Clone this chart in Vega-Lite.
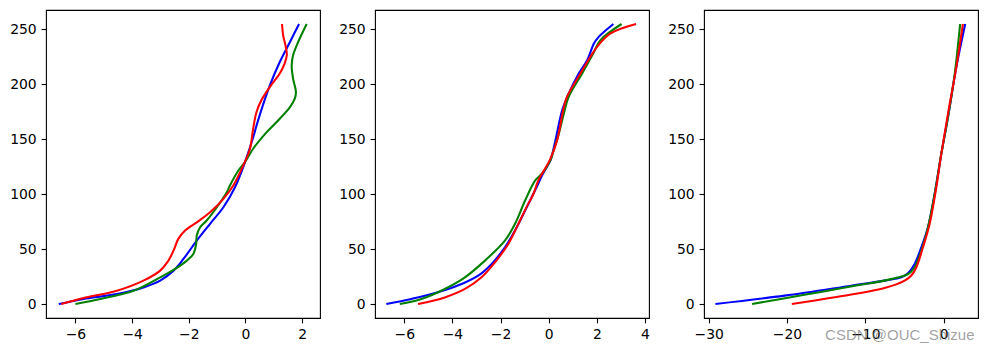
{
  "$schema": "https://vega.github.io/schema/vega-lite/v6.json",
  "autosize": {"type": "pad"},
  "padding": {"left": 9, "top": 9, "right": 5, "bottom": 0},
  "background": "white",
  "title": {"text": "CSDN @OUC_Shizue", "orient": "bottom", "anchor": "end", "font": "Liberation Sans", "fontSize": 15, "fontWeight": "normal", "color": "rgba(120,120,120,0.7)", "offset": -14, "dx": -4},
  "config": {
    "view": {"stroke": "black", "strokeWidth": 1.1},
    "axis": {"grid": false, "domain": false, "ticks": true, "tickColor": "black", "tickSize": 4.9, "tickWidth": 1.1, "labelFont": "DejaVu Sans", "labelFontSize": 13.9, "labelColor": "black", "labelPadding": 4.9, "title": null, "labelFlush": false, "labelOverlap": false},
    "axisX": {"labelAngle": 0}
  },
  "bounds": "flush",
  "spacing": 55,
  "datasets": {
    "p1": [
      {"c": "b", "y": 0, "x": -6.59}, {"c": "b", "y": 2, "x": -6.2}, {"c": "b", "y": 4.6, "x": -5.71}, {"c": "b", "y": 9.1, "x": -4.54}, {"c": "b", "y": 15.1, "x": -3.6}, {"c": "b", "y": 21.3, "x": -3.01}, {"c": "b", "y": 30.4, "x": -2.54}, {"c": "b", "y": 41, "x": -2.19}, {"c": "b", "y": 57.7, "x": -1.72}, {"c": "b", "y": 73, "x": -1.25}, {"c": "b", "y": 88.1, "x": -0.78}, {"c": "b", "y": 106.3, "x": -0.37}, {"c": "b", "y": 129, "x": -0.02}, {"c": "b", "y": 155, "x": 0.31}, {"c": "b", "y": 162.6, "x": 0.39}, {"c": "b", "y": 199.1, "x": 0.86}, {"c": "b", "y": 220.4, "x": 1.21}, {"c": "b", "y": 238.6, "x": 1.57}, {"c": "b", "y": 255, "x": 1.89},
      {"c": "g", "y": 0, "x": -6.0}, {"c": "g", "y": 4.6, "x": -5.12}, {"c": "g", "y": 12.1, "x": -3.95}, {"c": "g", "y": 24.3, "x": -3.01}, {"c": "g", "y": 31, "x": -2.54}, {"c": "g", "y": 39.5, "x": -2.07}, {"c": "g", "y": 45.6, "x": -1.84}, {"c": "g", "y": 54.7, "x": -1.74}, {"c": "g", "y": 62.3, "x": -1.72}, {"c": "g", "y": 69.9, "x": -1.6}, {"c": "g", "y": 76, "x": -1.37}, {"c": "g", "y": 88.1, "x": -1.01}, {"c": "g", "y": 101.8, "x": -0.66}, {"c": "g", "y": 107.9, "x": -0.55}, {"c": "g", "y": 121.6, "x": -0.25}, {"c": "g", "y": 129.2, "x": -0.02}, {"c": "g", "y": 141.4, "x": 0.27}, {"c": "g", "y": 156.5, "x": 0.75}, {"c": "g", "y": 168.7, "x": 1.21}, {"c": "g", "y": 179.3, "x": 1.57}, {"c": "g", "y": 187, "x": 1.74}, {"c": "g", "y": 193, "x": 1.78}, {"c": "g", "y": 205.2, "x": 1.68}, {"c": "g", "y": 217.3, "x": 1.63}, {"c": "g", "y": 226.5, "x": 1.68}, {"c": "g", "y": 238.6, "x": 1.86}, {"c": "g", "y": 255, "x": 2.16},
      {"c": "r", "y": 0, "x": -6.5}, {"c": "r", "y": 2.5, "x": -6.15}, {"c": "r", "y": 5.5, "x": -5.71}, {"c": "r", "y": 12.1, "x": -4.54}, {"c": "r", "y": 21.3, "x": -3.6}, {"c": "r", "y": 30.4, "x": -3.01}, {"c": "r", "y": 39.5, "x": -2.72}, {"c": "r", "y": 48.6, "x": -2.54}, {"c": "r", "y": 59.3, "x": -2.37}, {"c": "r", "y": 66.9, "x": -2.13}, {"c": "r", "y": 74.4, "x": -1.72}, {"c": "r", "y": 83.5, "x": -1.25}, {"c": "r", "y": 95.8, "x": -0.78}, {"c": "r", "y": 107.9, "x": -0.43}, {"c": "r", "y": 126.1, "x": -0.08}, {"c": "r", "y": 141.4, "x": 0.16}, {"c": "r", "y": 159.6, "x": 0.27}, {"c": "r", "y": 174.8, "x": 0.39}, {"c": "r", "y": 185.5, "x": 0.56}, {"c": "r", "y": 199.1, "x": 0.9}, {"c": "r", "y": 209.9, "x": 1.21}, {"c": "r", "y": 219, "x": 1.38}, {"c": "r", "y": 227, "x": 1.46}, {"c": "r", "y": 235.6, "x": 1.41}, {"c": "r", "y": 244.7, "x": 1.33}, {"c": "r", "y": 255, "x": 1.29}
    ],
    "p2": [
      {"c": "b", "y": 0, "x": -6.75}, {"c": "b", "y": 4.6, "x": -5.71}, {"c": "b", "y": 10.6, "x": -4.6}, {"c": "b", "y": 18.2, "x": -3.62}, {"c": "b", "y": 25.8, "x": -2.93}, {"c": "b", "y": 36.5, "x": -2.37}, {"c": "b", "y": 51.6, "x": -1.82}, {"c": "b", "y": 66.9, "x": -1.4}, {"c": "b", "y": 85.1, "x": -0.98}, {"c": "b", "y": 103.3, "x": -0.57}, {"c": "b", "y": 118.6, "x": -0.24}, {"c": "b", "y": 130.8, "x": 0.07}, {"c": "b", "y": 149, "x": 0.28}, {"c": "b", "y": 176.4, "x": 0.56}, {"c": "b", "y": 191.6, "x": 0.83}, {"c": "b", "y": 209.9, "x": 1.25}, {"c": "b", "y": 222, "x": 1.6}, {"c": "b", "y": 237.2, "x": 1.88}, {"c": "b", "y": 243.3, "x": 2.08}, {"c": "b", "y": 255, "x": 2.69},
      {"c": "g", "y": 0, "x": -6.19}, {"c": "g", "y": 4.6, "x": -5.29}, {"c": "g", "y": 13.7, "x": -4.32}, {"c": "g", "y": 24.3, "x": -3.48}, {"c": "g", "y": 39.5, "x": -2.65}, {"c": "g", "y": 57.7, "x": -1.82}, {"c": "g", "y": 73, "x": -1.4}, {"c": "g", "y": 94.2, "x": -0.98}, {"c": "g", "y": 112.5, "x": -0.56}, {"c": "g", "y": 118.6, "x": -0.28}, {"c": "g", "y": 130.8, "x": 0.07}, {"c": "g", "y": 140, "x": 0.21}, {"c": "g", "y": 155, "x": 0.42}, {"c": "g", "y": 173.4, "x": 0.63}, {"c": "g", "y": 188.6, "x": 0.83}, {"c": "g", "y": 209.9, "x": 1.39}, {"c": "g", "y": 228.1, "x": 1.85}, {"c": "g", "y": 240.3, "x": 2.15}, {"c": "g", "y": 255, "x": 3.03},
      {"c": "r", "y": 0, "x": -5.43}, {"c": "r", "y": 6, "x": -4.32}, {"c": "r", "y": 13.7, "x": -3.48}, {"c": "r", "y": 24.3, "x": -2.79}, {"c": "r", "y": 38, "x": -2.23}, {"c": "r", "y": 54.7, "x": -1.68}, {"c": "r", "y": 73, "x": -1.26}, {"c": "r", "y": 91.2, "x": -0.85}, {"c": "r", "y": 100.4, "x": -0.63}, {"c": "r", "y": 112.5, "x": -0.43}, {"c": "r", "y": 130.8, "x": 0.04}, {"c": "r", "y": 149, "x": 0.35}, {"c": "r", "y": 176.4, "x": 0.6}, {"c": "r", "y": 188.6, "x": 0.76}, {"c": "r", "y": 209.9, "x": 1.32}, {"c": "r", "y": 234.2, "x": 2.01}, {"c": "r", "y": 246.4, "x": 2.57}, {"c": "r", "y": 255, "x": 3.63}
    ],
    "p3": [
      {"c": "b", "y": 0, "x": -29.14}, {"c": "b", "y": 7.6, "x": -20.3}, {"c": "b", "y": 16.7, "x": -11.8}, {"c": "b", "y": 21.3, "x": -7.54}, {"c": "b", "y": 24.3, "x": -5.41}, {"c": "b", "y": 28, "x": -4.56}, {"c": "b", "y": 36.5, "x": -3.71}, {"c": "b", "y": 51.7, "x": -2.85}, {"c": "b", "y": 70, "x": -2.0}, {"c": "b", "y": 100.4, "x": -1.15}, {"c": "b", "y": 136.9, "x": -0.3}, {"c": "b", "y": 170.3, "x": 0.55}, {"c": "b", "y": 216, "x": 1.62}, {"c": "b", "y": 255, "x": 2.75},
      {"c": "g", "y": 0, "x": -24.46}, {"c": "g", "y": 8.6, "x": -17.6}, {"c": "g", "y": 17, "x": -11.0}, {"c": "g", "y": 22.2, "x": -7.0}, {"c": "g", "y": 27.4, "x": -4.5}, {"c": "g", "y": 33.5, "x": -3.71}, {"c": "g", "y": 48.7, "x": -2.85}, {"c": "g", "y": 70, "x": -2.0}, {"c": "g", "y": 100.4, "x": -1.15}, {"c": "g", "y": 136.9, "x": -0.3}, {"c": "g", "y": 170.3, "x": 0.55}, {"c": "g", "y": 209.9, "x": 1.41}, {"c": "g", "y": 255, "x": 2.1},
      {"c": "r", "y": 0, "x": -19.39}, {"c": "r", "y": 6.1, "x": -13.9}, {"c": "r", "y": 14.6, "x": -7.54}, {"c": "r", "y": 21.3, "x": -4.98}, {"c": "r", "y": 25.9, "x": -4.13}, {"c": "r", "y": 33.5, "x": -3.49}, {"c": "r", "y": 51.7, "x": -2.64}, {"c": "r", "y": 73, "x": -1.79}, {"c": "r", "y": 106.4, "x": -0.94}, {"c": "r", "y": 136.9, "x": -0.3}, {"c": "r", "y": 173.4, "x": 0.55}, {"c": "r", "y": 216, "x": 1.62}, {"c": "r", "y": 255, "x": 2.45}
    ]
  },
  "hconcat": [
    {
      "width": 274, "height": 308,
      "data": {"name": "p1"},
      "mark": {"type": "line", "strokeWidth": 2.08, "interpolate": "catmull-rom", "clip": true},
      "encoding": {
        "x": {"field": "x", "type": "quantitative", "scale": {"domain": [-7.04, 2.63], "nice": false, "zero": false}, "axis": {"values": [-6, -4, -2, 0, 2]}},
        "y": {"field": "y", "type": "quantitative", "scale": {"domain": [-12.75, 267.75], "nice": false, "zero": false}, "axis": {"values": [0, 50, 100, 150, 200, 250]}},
        "color": {"field": "c", "type": "nominal", "scale": {"domain": ["b", "g", "r"], "range": ["#0000ff", "#008000", "#ff0000"]}, "legend": null},
        "order": {"field": "y", "type": "quantitative"}
      }
    },
    {
      "width": 274, "height": 308,
      "data": {"name": "p2"},
      "mark": {"type": "line", "strokeWidth": 2.08, "interpolate": "catmull-rom", "clip": true},
      "encoding": {
        "x": {"field": "x", "type": "quantitative", "scale": {"domain": [-7.22, 4.17], "nice": false, "zero": false}, "axis": {"values": [-6, -4, -2, 0, 2, 4]}},
        "y": {"field": "y", "type": "quantitative", "scale": {"domain": [-12.75, 267.75], "nice": false, "zero": false}, "axis": {"values": [0, 50, 100, 150, 200, 250]}},
        "color": {"field": "c", "type": "nominal", "scale": {"domain": ["b", "g", "r"], "range": ["#0000ff", "#008000", "#ff0000"]}, "legend": null},
        "order": {"field": "y", "type": "quantitative"}
      }
    },
    {
      "width": 274, "height": 308,
      "data": {"name": "p3"},
      "mark": {"type": "line", "strokeWidth": 2.08, "interpolate": "catmull-rom", "clip": true},
      "encoding": {
        "x": {"field": "x", "type": "quantitative", "scale": {"domain": [-30.6, 4.38], "nice": false, "zero": false}, "axis": {"values": [-30, -20, -10, 0]}},
        "y": {"field": "y", "type": "quantitative", "scale": {"domain": [-12.75, 267.75], "nice": false, "zero": false}, "axis": {"values": [0, 50, 100, 150, 200, 250]}},
        "color": {"field": "c", "type": "nominal", "scale": {"domain": ["b", "g", "r"], "range": ["#0000ff", "#008000", "#ff0000"]}, "legend": null},
        "order": {"field": "y", "type": "quantitative"}
      }
    }
  ]
}
